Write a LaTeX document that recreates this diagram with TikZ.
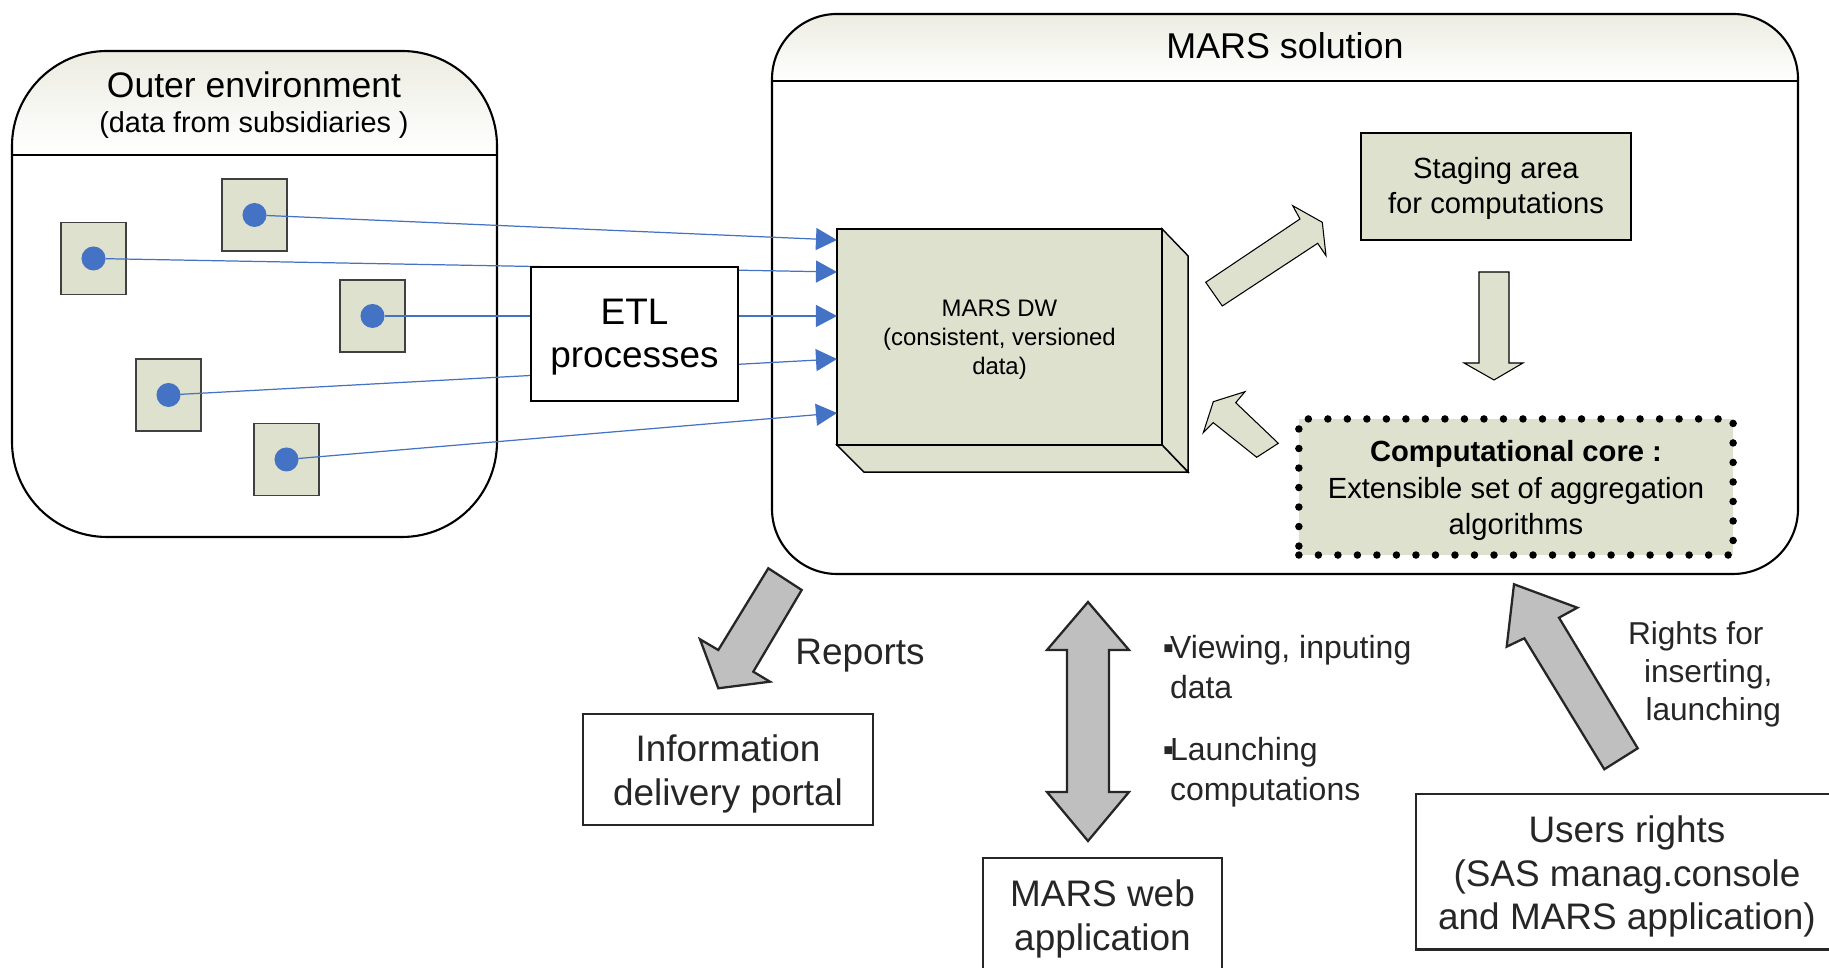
\documentclass[tikz,border=0pt]{standalone}
\usepackage{fontspec}
\setmainfont{Liberation Sans}
\usetikzlibrary{arrows.meta}

\definecolor{boxfill}{RGB}{221,225,205}
\definecolor{flowblue}{RGB}{68,114,196}
\definecolor{hdrtop}{RGB}{236,236,226}
\definecolor{ink}{RGB}{38,38,38}
\definecolor{arrowgray}{RGB}{191,191,191}

\newcommand\setfsz[2]{\fontsize{#1}{#2}\selectfont}
\newcommand\bulsq{\makebox[0.06cm][r]{\fontsize{9pt}{10pt}\selectfont ▪\kern-0.04cm}}

\begin{document}
\begin{tikzpicture}[x=0.01cm, y=-0.01cm,
  every node/.style={inner sep=0pt, outer sep=0pt},
  panel/.style={draw=black, line width=0.6pt},
  srcbox/.style={draw=black!75, line width=0.4pt, fill=boxfill, minimum width=0.65cm, minimum height=0.72cm},
  srcdot/.style={circle, fill=flowblue, minimum size=0.24cm},
  flow/.style={draw=flowblue, line width=0.35pt, -{Triangle[length=0.21cm,width=0.22cm]}},
  facebox/.style={draw=black, line width=0.4pt, fill=boxfill},
  whitebox/.style={draw=black, line width=0.45pt, fill=white},
  outbox/.style={draw=ink, line width=0.6pt, fill=white},
  outtext/.style={text=ink, align=center, font=\setfsz{10.5pt}{12.4pt}},
  innerarrow/.style={draw=black, line width=0.3pt, fill=boxfill, line join=miter},
  grayarrow/.style={draw=ink, line width=0.65pt, fill=arrowgray, line join=miter},
  dottedbox/.style={draw=black, fill=boxfill, line width=0.075cm, line cap=round, dash pattern=on 0pt off 0.195cm},
  note/.style={text=ink}
]
\useasboundingbox (0,0) rectangle (1829,968);

% ---- outer environment panel
\begin{scope}
  \clip[rounded corners=0.95cm] (12,51) rectangle (497,537);
  \shade[top color=hdrtop, bottom color=white] (12,51) rectangle (497,155);
\end{scope}
\draw[panel, rounded corners=0.95cm] (12,51) rectangle (497,537);
\draw[panel] (12,155) -- (497,155);
\node[anchor=base, font=\setfsz{10.1pt}{12pt}] (envtitle) at (254,98) {Outer environment};
\node[anchor=base, font=\setfsz{8.2pt}{10pt}] (envsub) at (254,133) {(data from subsidiaries )};

% ---- MARS solution panel
\begin{scope}
  \clip[rounded corners=0.65cm] (772,14) rectangle (1798,574);
  \shade[top color=hdrtop, bottom color=white] (772,14) rectangle (1798,81);
\end{scope}
\draw[panel, rounded corners=0.65cm] (772,14) rectangle (1798,574);
\draw[panel] (772,81) -- (1798,81);
\node[anchor=base, font=\setfsz{10.2pt}{12pt}] (marstitle) at (1285,59) {MARS solution};

% ---- data warehouse block
\node[facebox, minimum width=3.25cm, minimum height=2.16cm] (dw) at (999.5,337) {};
\draw[facebox] (dw.north east) -- ++(26,27) -- ++(0,216) -- (dw.south east) -- cycle;
\draw[facebox] (dw.south west) -- ++(27,27) -- ++(324,0) -- (dw.south east) -- cycle;
\node[align=center, font=\setfsz{6.8pt}{8.25pt}] (dwtext) at ([yshift=-0.023cm]dw.center)
  {MARS DW\\(consistent, versioned\\data)};

% ---- subsidiaries feeding the warehouse
\foreach \n/\x/\y in {1/254.5/215, 2/93.5/258.5, 3/372.5/316, 4/168.5/395, 5/286.5/459.5} {
  \node[srcbox] (s\n) at (\x,\y) {};
  \node[srcdot] (d\n) at (s\n) {};
}
\coordinate (t1) at (837,240);
\coordinate (t2) at (837,272);
\coordinate (t3) at (837,316);
\coordinate (t4) at (837,359);
\coordinate (t5) at (837,413);
\foreach \n in {1,...,5} { \draw[flow] (d\n) -- (t\n); }

\node[whitebox, minimum width=2.07cm, minimum height=1.34cm] (etl) at (634.5,334) {};
\node[align=center, font=\setfsz{10.5pt}{12.3pt}] (etltext) at ([yshift=-0.035cm]etl.center)
  {ETL\\processes};

% ---- staging area and computational core
\node[facebox, line width=0.35pt, minimum width=2.70cm, minimum height=1.07cm] (stage) at (1496,186.5) {};
\node[align=center, font=\setfsz{8.3pt}{10pt}] (stagetext) at ([yshift=-0.023cm]stage.center)
  {Staging area\\for computations};
\node[dottedbox, minimum width=4.34cm, minimum height=1.36cm] (core) at (1516,487) {};
\node[align=center, font=\setfsz{8.3pt}{10.25pt}] (coretext) at ([yshift=-0.035cm]core.center)
  {\textbf{Computational core :}\\Extensible set of aggregation\\algorithms};

% ---- block arrows inside the solution
\draw[innerarrow] (1205.7,282.3) -- (1300,219) -- (1292.7,205.7) -- (1322.3,222.3)
  -- (1326,255.7) -- (1317.7,243.3) -- (1222.3,306) -- cycle;
\draw[innerarrow] (1479,272) -- (1509,272) -- (1509,363) -- (1523,363) -- (1494,380)
  -- (1464,363) -- (1479,363) -- cycle;
\draw[innerarrow] (1213.3,401.7) -- (1245,391.7) -- (1235.7,402.7) -- (1278.3,443.3)
  -- (1256.7,457.3) -- (1213.3,422.7) -- (1203.3,432.7) -- cycle;

% ---- consumers of the solution
\node[outbox, minimum width=2.90cm, minimum height=1.11cm] (portal) at (728,769.5) {};
\node[outtext] (portaltext) at ([yshift=-0.045cm]portal.center) {Information\\delivery portal};
\node[outbox, minimum width=2.39cm, minimum height=1.16cm] (web) at (1102.5,916) {};
\node[outtext] (webtext) at ([yshift=-0.03cm]web.center) {MARS web\\application};
\node[outbox, minimum width=4.22cm, minimum height=1.55cm] (users) at (1627,872) {};
\node[outtext, font=\setfsz{10.5pt}{12.35pt}] (userstext) at ([yshift=-0.045cm]users.center)
  {Users rights\\(SAS manag.console\\and MARS application)};

% reports to the portal
\draw[grayarrow] (768.3,568.3) -- (801.7,590) -- (753.3,671.7) -- (770,681.7)
  -- (718.3,688.3) -- (700,639.3) -- (718.3,650) -- cycle;
% web application in both directions
\draw[grayarrow] (1088,602) -- (1129,650) -- (1109,650) -- (1109,792) -- (1129,792)
  -- (1088,841) -- (1047,792) -- (1067,792) -- (1067,650) -- (1047,650) -- cycle;
% rights granted to the solution
\draw[grayarrow] (1514,584.3) -- (1577.3,607.7) -- (1559,617.7) -- (1637.7,748.3)
  -- (1604.3,769.3) -- (1524.3,638.3) -- (1506.7,646.7) -- cycle;

% ---- labels
\node[note, anchor=base, font=\setfsz{10.5pt}{12pt}] (rep) at (860,665) {Reports};
\node[note, anchor=west, align=left, font=\setfsz{9.1pt}{11.4pt}] (view) at (1164,667.5)
  {\bulsq Viewing, inputing\\\hphantom{\bulsq}data};
\node[note, anchor=west, align=left, font=\setfsz{9.1pt}{11.4pt}] (launch) at (1164,771.8)
  {\bulsq Launching\\\hphantom{\bulsq}computations};
\node[note, anchor=west, align=left, font=\setfsz{9pt}{10.8pt}] (rights) at (1628,674)
  {Rights for\\\hspace*{0.16cm}inserting,\\\hspace*{0.175cm}launching};
\end{tikzpicture}
\end{document}
